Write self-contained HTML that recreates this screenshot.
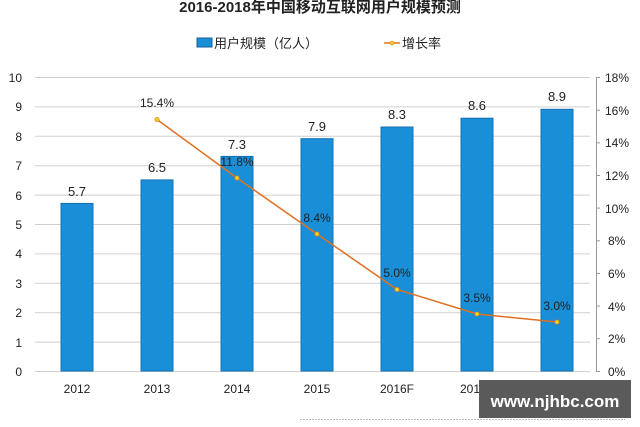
<!DOCTYPE html>
<html><head><meta charset="utf-8"><style>
body{margin:0;background:#fff;}
svg{display:block;font-family:"Liberation Sans","Noto Sans CJK SC",sans-serif;}
</style></head><body>
<svg width="640" height="427" viewBox="0 0 640 427">
<rect width="640" height="427" fill="#fff"/>
<text x="320" y="12" text-anchor="middle" font-size="15" font-weight="bold" fill="#222">2016-2018年中国移动互联网用户规模预测</text>
<rect x="197" y="38" width="15" height="9" fill="#1a8fd8" stroke="#16609c"/>
<text x="214" y="48" font-size="13" fill="#222">用户规模（亿人）</text>
<line x1="384" y1="43" x2="400" y2="43" stroke="#e07020" stroke-width="1.5"/>
<circle cx="392" cy="43" r="2" fill="#f0d020" stroke="#e07020" stroke-width="0.6"/>
<text x="402" y="48" font-size="13" fill="#222">增长率</text>
<g stroke="#d0d0d0" stroke-width="1">
<line x1="35" y1="77.5" x2="590" y2="77.5"/><line x1="35" y1="106.9" x2="590" y2="106.9"/>
<line x1="35" y1="136.3" x2="590" y2="136.3"/><line x1="35" y1="165.7" x2="590" y2="165.7"/>
<line x1="35" y1="195.1" x2="590" y2="195.1"/><line x1="35" y1="224.5" x2="590" y2="224.5"/>
<line x1="35" y1="253.9" x2="590" y2="253.9"/><line x1="35" y1="283.3" x2="590" y2="283.3"/>
<line x1="35" y1="312.7" x2="590" y2="312.7"/><line x1="35" y1="342.1" x2="590" y2="342.1"/>
<line x1="35" y1="371.5" x2="590" y2="371.5"/>
</g>
<g font-size="12" fill="#222" text-anchor="end">
<text x="22" y="82">10</text><text x="22" y="111">9</text><text x="22" y="141">8</text>
<text x="22" y="170">7</text><text x="22" y="200">6</text><text x="22" y="229">5</text>
<text x="22" y="258">4</text><text x="22" y="288">3</text><text x="22" y="317">2</text>
<text x="22" y="347">1</text><text x="22" y="376">0</text>
</g>
<line x1="596.5" y1="77" x2="596.5" y2="371" stroke="#999"/>
<g stroke="#999">
<line x1="596" y1="77.5" x2="600" y2="77.5"/><line x1="596" y1="110.2" x2="600" y2="110.2"/>
<line x1="596" y1="142.8" x2="600" y2="142.8"/><line x1="596" y1="175.5" x2="600" y2="175.5"/>
<line x1="596" y1="208.1" x2="600" y2="208.1"/><line x1="596" y1="240.8" x2="600" y2="240.8"/>
<line x1="596" y1="273.4" x2="600" y2="273.4"/><line x1="596" y1="306.1" x2="600" y2="306.1"/>
<line x1="596" y1="338.7" x2="600" y2="338.7"/><line x1="596" y1="371.5" x2="600" y2="371.5"/>
</g>
<g font-size="12" fill="#222">
<text x="605" y="82">18%</text><text x="605" y="115">16%</text><text x="605" y="147">14%</text>
<text x="605" y="180">12%</text><text x="605" y="213">10%</text><text x="608" y="245">8%</text>
<text x="608" y="278">6%</text><text x="608" y="311">4%</text><text x="608" y="343">2%</text>
<text x="608" y="376">0%</text>
</g>
<g fill="#1a8fd8" stroke="#1570b0" stroke-width="1">
<rect x="61" y="203.4" width="32" height="167.6"/>
<rect x="141" y="179.9" width="32" height="191.1"/>
<rect x="221" y="156.4" width="32" height="214.6"/>
<rect x="301" y="138.7" width="32" height="232.3"/>
<rect x="381" y="127" width="32" height="244"/>
<rect x="461" y="118.2" width="32" height="252.8"/>
<rect x="541" y="109.3" width="32" height="261.7"/>
</g>
<g font-size="13" fill="#222" text-anchor="middle">
<text x="77" y="196">5.7</text><text x="157" y="172">6.5</text><text x="237" y="149">7.3</text>
<text x="317" y="131">7.9</text><text x="397" y="119">8.3</text><text x="477" y="110">8.6</text>
<text x="557" y="101">8.9</text>
</g>
<polyline points="157,119.5 237,178 317,234 397,289.5 477,314 557,322" fill="none" stroke="#e07020" stroke-width="1.5"/>
<g fill="#f0d020" stroke="#e07020" stroke-width="0.6">
<circle cx="157" cy="119.5" r="2.2"/><circle cx="237" cy="178" r="2.2"/><circle cx="317" cy="234" r="2.2"/>
<circle cx="397" cy="289.5" r="2.2"/><circle cx="477" cy="314" r="2.2"/><circle cx="557" cy="322" r="2.2"/>
</g>
<g font-size="12" fill="#222" text-anchor="middle">
<text x="157" y="107">15.4%</text><text x="237" y="166">11.8%</text><text x="317" y="222">8.4%</text>
<text x="397" y="277">5.0%</text><text x="477" y="302">3.5%</text><text x="557" y="310">3.0%</text>
</g>
<g font-size="12" fill="#222" text-anchor="middle">
<text x="77" y="393">2012</text><text x="157" y="393">2013</text><text x="237" y="393">2014</text>
<text x="317" y="393">2015</text><text x="397" y="393">2016F</text><text x="477" y="393">2017F</text>
<text x="557" y="393">2018F</text>
</g>
<line x1="300" y1="419.5" x2="625" y2="419.5" stroke="#bbb" stroke-dasharray="2,1"/>
<rect x="479" y="380" width="152" height="38" fill="#5a5a5a"/>
<text x="555" y="407" text-anchor="middle" font-size="17" font-weight="bold" fill="#fff">www.njhbc.com</text>
</svg>
</body></html>
